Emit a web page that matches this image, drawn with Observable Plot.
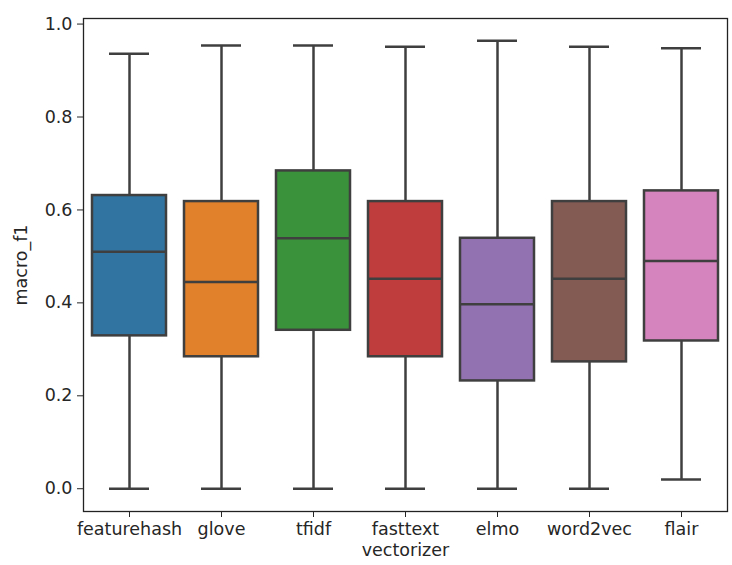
<!DOCTYPE html>
<html>
<head>
<meta charset="utf-8">
<script src="https://cdn.jsdelivr.net/npm/d3@7"></script>
<script src="https://cdn.jsdelivr.net/npm/@observablehq/plot@0.6"></script>
<style>
  html, body { margin: 0; padding: 0; background: #fff; }
</style>
</head>
<body>
<div id="chart"></div>
<script>
const vectorizers = ["featurehash", "glove", "tfidf", "fasttext", "elmo", "word2vec", "flair"];
const whiskerLow  = [0.000, 0.000, 0.000, 0.000, 0.000, 0.000, 0.020];
const q1          = [0.329, 0.284, 0.341, 0.284, 0.232, 0.273, 0.318];
const median      = [0.510, 0.445, 0.539, 0.452, 0.397, 0.452, 0.490];
const q3          = [0.631, 0.618, 0.684, 0.618, 0.539, 0.618, 0.641];
const whiskerHigh = [0.936, 0.954, 0.954, 0.951, 0.964, 0.951, 0.948];
const palette = ["#3274a1", "#e1812c", "#3a923a", "#c03d3e", "#9372b2", "#845b53", "#d684bd"];
const yTicks = [0, 0.2, 0.4, 0.6, 0.8, 1.0];

const rows = vectorizers.map((v, i) => ({
  vectorizer: v, low: whiskerLow[i], q1: q1[i], median: median[i], q3: q3[i], high: whiskerHigh[i]
}));

const lineColor = "#3f3f3f";
const lw = 2.5;

const chart = Plot.plot({
  width: 732,
  height: 565,
  marginLeft: 83,
  marginRight: 5,
  marginTop: 18,
  marginBottom: 54,
  style: { fontFamily: "DejaVu Sans", fontSize: "17.5px", color: "#262626", background: "white" },
  x: {
    domain: vectorizers, paddingInner: 0.2, paddingOuter: 0.1,
    label: "vectorizer", labelAnchor: "center", labelOffset: 44, labelArrow: "none",
    tickSize: 6, tickPadding: 5
  },
  y: {
    domain: [-0.049, 1.012], ticks: yTicks, tickFormat: ".1f",
    label: "macro_f1", labelAnchor: "center", labelOffset: 69, labelArrow: "none",
    tickSize: 6, tickPadding: 5
  },
  color: { domain: vectorizers, range: palette },
  marks: [
    Plot.ruleX(rows, { x: "vectorizer", y1: "low", y2: "q1", stroke: lineColor, strokeWidth: lw }),
    Plot.ruleX(rows, { x: "vectorizer", y1: "q3", y2: "high", stroke: lineColor, strokeWidth: lw }),
    Plot.tickY(rows, { x: "vectorizer", y: "low", insetLeft: 17, insetRight: 17, stroke: lineColor, strokeWidth: lw }),
    Plot.tickY(rows, { x: "vectorizer", y: "high", insetLeft: 17, insetRight: 17, stroke: lineColor, strokeWidth: lw }),
    Plot.barY(rows, { x: "vectorizer", y1: "q1", y2: "q3", fill: "vectorizer", stroke: lineColor, strokeWidth: lw }),
    Plot.tickY(rows, { x: "vectorizer", y: "median", stroke: lineColor, strokeWidth: lw }),
    Plot.frame({ stroke: "#222", strokeWidth: 1.3 })
  ]
});

document.getElementById("chart").appendChild(chart);
</script>
</body>
</html>
